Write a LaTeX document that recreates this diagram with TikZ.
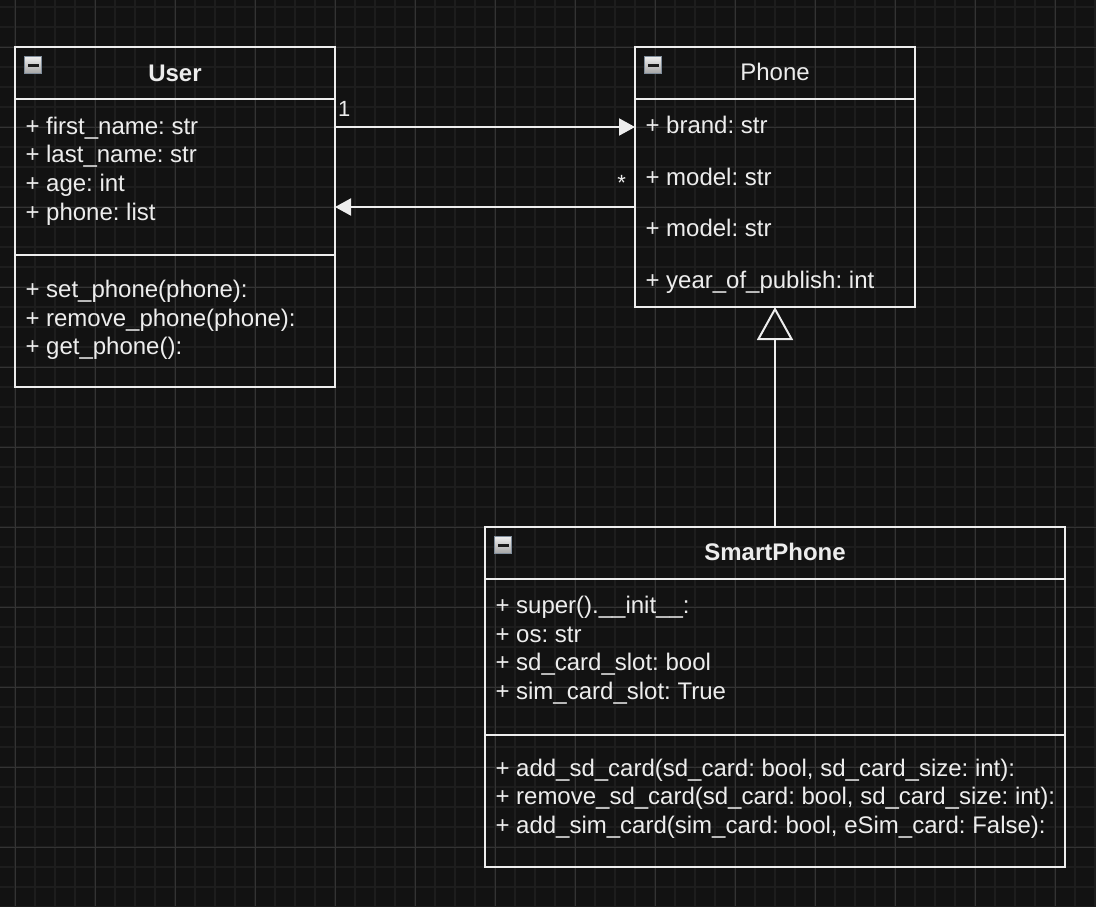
\documentclass[tikz,border=0pt]{standalone}
\usepackage{fontspec}
\setmainfont{Liberation Sans}
\usetikzlibrary{arrows.meta}
\definecolor{bg}{HTML}{121212}
\definecolor{gridminor}{HTML}{1D1D1D}
\definecolor{gridmajor}{HTML}{333333}
\definecolor{fg}{HTML}{EDEDED}
\definecolor{iconborder}{HTML}{7F8C9A}
\definecolor{icontop}{HTML}{EEEEEE}
\definecolor{iconbot}{HTML}{A4A4A4}
\definecolor{iconbar}{HTML}{1A1A1A}
\tikzset{
  minorline/.style={draw=gridminor, line width=1.6pt},
  majorline/.style={draw=gridmajor, line width=1pt},
  cls/.style={draw=fg, line width=2pt, inner sep=0pt, outer sep=0pt, anchor=north west},
  sepline/.style={draw=fg, line width=2pt},
  txt/.style={text=fg, inner sep=0pt, outer sep=0pt, anchor=base west, font=\fontsize{24}{28.7}\selectfont\frenchspacing},
  ttl/.style={text=fg, inner sep=0pt, outer sep=0pt, anchor=base, font=\fontsize{24}{28.7}\selectfont\frenchspacing},
  lbl/.style={text=fg, inner sep=0pt, outer sep=0pt, font=\fontsize{22}{26}\selectfont},
  icon/.style={draw=iconborder, line width=1pt, minimum size=17pt, inner sep=0pt,
    top color=icontop, bottom color=iconbot,
    path picture={\fill[iconbar] ([xshift=-5.5pt,yshift=-1.5pt]path picture bounding box.center) rectangle ([xshift=5.5pt,yshift=1.5pt]path picture bounding box.center);}},
  assoc/.style={draw=fg, line width=2pt, -{Triangle[length=16pt,width=17pt]}, fg},
  inherit/.style={draw=fg, line width=2pt, -{Triangle[open,length=33pt,width=36pt]}},
}
\begin{document}
\begin{tikzpicture}[x=1pt,y=-1pt]
\fill[bg] (0,0) rectangle (1096,906);
\useasboundingbox (0,0) rectangle (1096,906);
% grid
\foreach \gx in {15,35,...,1095} \draw[minorline] (\gx,0) -- (\gx,906);
\foreach \gy in {7,27,...,907} \draw[minorline] (0,\gy) -- (1096,\gy);
\foreach \gx in {15,95,...,1055} \draw[majorline] (\gx,0) -- (\gx,906);
\foreach \gy in {47,127,...,847} \draw[majorline] (0,\gy) -- (1096,\gy);

% User class
\node[cls, minimum width=320pt, minimum height=340pt] (user) at (15,47) {};
\draw[sepline] (user.west |- 0,99) -- (user.east |- 0,99);
\draw[sepline] (user.west |- 0,255) -- (user.east |- 0,255);
\node[icon] (usericon) at (33,65) {};
\node[ttl] (usertitle) at (175,81) {\bfseries User};
\foreach \t [count=\i] in {{+ first\_name: str},{+ last\_name: str},{+ age: int},{+ phone: list}}
  \node[txt] (ua\i) at (25.5,{134+(\i-1)*28.7}) {\t};
\foreach \t [count=\i] in {{+ set\_phone(phone):},{+ remove\_phone(phone):},{+ get\_phone():}}
  \node[txt] (um\i) at (25.5,{297.3+(\i-1)*28.7}) {\t};

% Phone class
\node[cls, minimum width=280pt, minimum height=260pt] (phone) at (635,47) {};
\draw[sepline] (phone.west |- 0,99) -- (phone.east |- 0,99);
\node[icon] (phoneicon) at (653,65) {};
\node[ttl] (phonetitle) at (775,80.7) {Phone};
\foreach \t [count=\i] in {{+ brand: str},{+ model: str},{+ model: str},{+ year\_of\_publish: int}}
  \node[txt] (pa\i) at (645.5,{133.3+(\i-1)*51.7}) {\t};

% SmartPhone class
\node[cls, minimum width=580pt, minimum height=340pt] (smart) at (485,527) {};
\draw[sepline] (smart.west |- 0,579) -- (smart.east |- 0,579);
\draw[sepline] (smart.west |- 0,735) -- (smart.east |- 0,735);
\node[icon] (smarticon) at (503,545) {};
\node[ttl] (smarttitle) at (775,560.7) {\bfseries SmartPhone};
\foreach \t [count=\i] in {{+ super().\_\_init\_\_:},{+ os: str},{+ sd\_card\_slot: bool},{+ sim\_card\_slot: True}}
  \node[txt] (sa\i) at (495.5,{613.3+(\i-1)*28.7}) {\t};
\foreach \t [count=\i] in {{+ add\_sd\_card(sd\_card: bool, sd\_card\_size: int):},{+ remove\_sd\_card(sd\_card: bool, sd\_card\_size: int):},{+ add\_sim\_card(sim\_card: bool, eSim\_card: False):}}
  \node[txt] (sm\i) at (495.5,{776+(\i-1)*28.7}) {\t};

% connectors
\draw[assoc] (user.east |- 0,127) -- (phone.west |- 0,127);
\draw[assoc] (phone.west |- 0,207) -- (user.east |- 0,207);
\draw[inherit] (smart.north) -- (phone.south);
\node[lbl, anchor=base west] (one) at (338,116) {1};
\node[lbl, anchor=base] (many) at (621.7,190) {*};
\end{tikzpicture}
\end{document}
